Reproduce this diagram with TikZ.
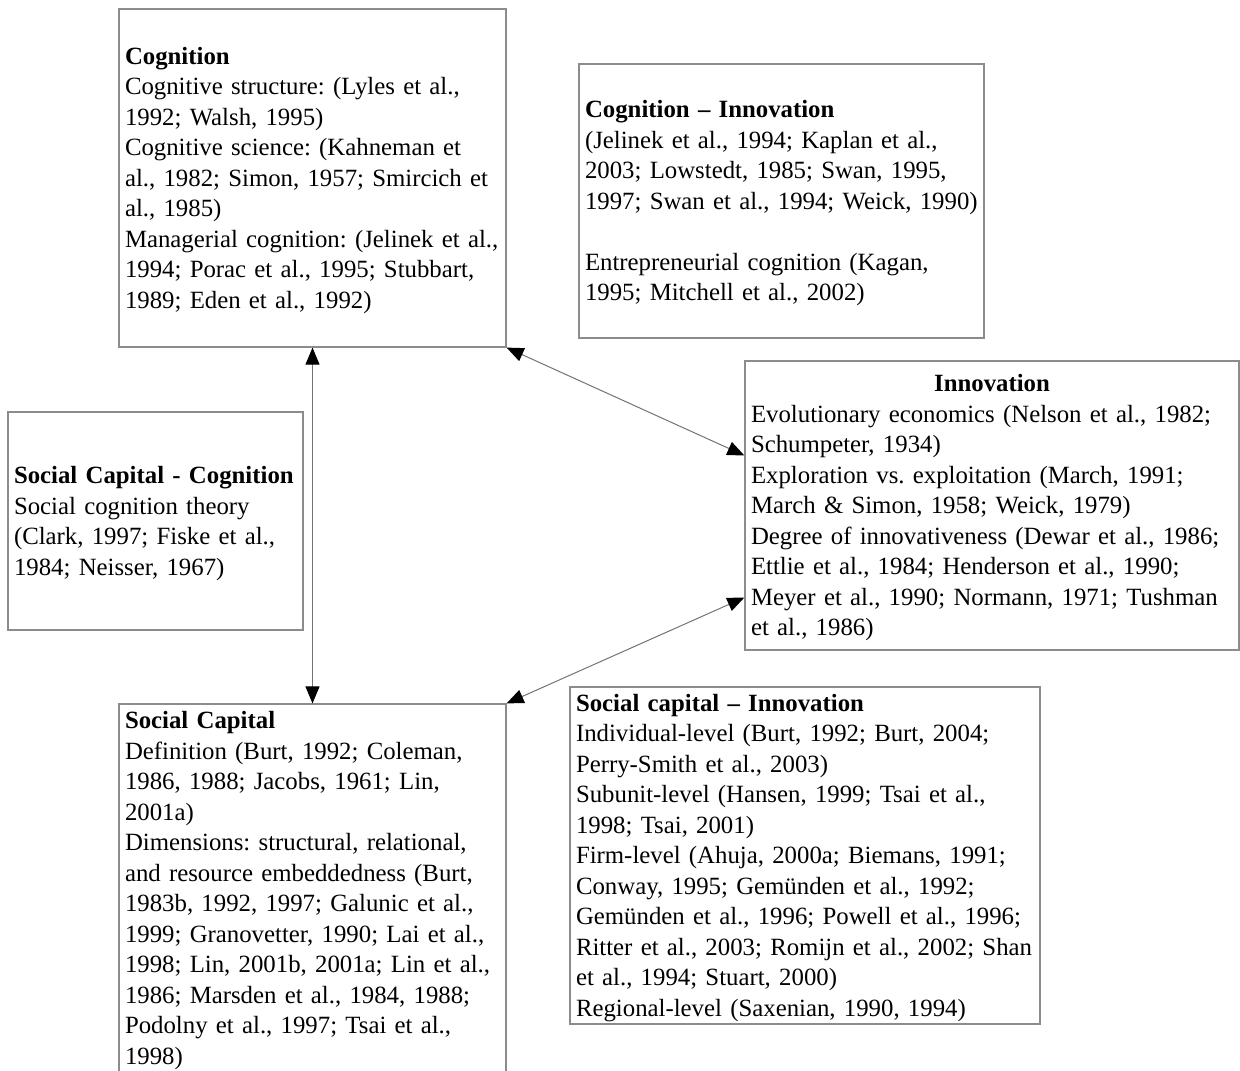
\documentclass[tikz,border=0pt]{standalone}
\usepackage{fontspec}
\setmainfont{Liberation Serif}
\usetikzlibrary{arrows.meta}

\begin{document}
\begin{tikzpicture}[
x=0.5pt, y=-0.5pt,
box/.style 2 args={draw=black!45, line width=0.6pt, inner sep=0pt,
  minimum width=#1pt, text width=#1pt, minimum height=#2pt,
  font=\fontsize{12.4}{15.25}\selectfont,
  execute at begin node={\frenchspacing\raggedright\leftskip=3pt\rightskip=-20pt plus 1fil\relax\rule{0pt}{11pt}}},
link/.style={{Triangle[length=8.5pt, width=7pt, color=black]}-{Triangle[length=8.5pt, width=7pt, color=black]}, draw=black!55, line width=0.5pt}
]
\useasboundingbox (0,0) rectangle (1240,1070);

% boxes
\node[box={193.5}{169}] (cog) at (312.5,178) {\textbf{Cognition}\\
Cognitive structure: (Lyles et al.,\\
1992; Walsh, 1995)\\
Cognitive science: (Kahneman et\\
al., 1982; Simon, 1957; Smircich et\\
al., 1985)\\
Managerial cognition: (Jelinek et al.,\\
1994; Porac et al., 1995; Stubbart,\\
1989; Eden et al., 1992)};

\node[box={202.5}{137}] (coginno) at (781.5,201) {\textbf{Cognition -- Innovation}\\
(Jelinek et al., 1994; Kaplan et al.,\\
2003; Lowstedt, 1985; Swan, 1995,\\
1997; Swan et al., 1994; Weick, 1990)\\[15.25pt]
Entrepreneurial cognition (Kagan,\\
1995; Mitchell et al., 2002)};

\node[box={247}{144.5}] (inno) at (992,505.5) {\makebox[\dimexpr\linewidth-6pt\relax]{\textbf{Innovation}}\\
Evolutionary economics (Nelson et al., 1982;\\
Schumpeter, 1934)\\
Exploration vs. exploitation (March, 1991;\\
March \& Simon, 1958; Weick, 1979)\\
Degree of innovativeness (Dewar et al., 1986;\\
Ettlie et al., 1984; Henderson et al., 1990;\\
Meyer et al., 1990; Normann, 1971; Tushman\\
et al., 1986)};

\node[box={147.5}{109}] (soccog) at (155.5,521) {\textbf{Social Capital - Cognition}\\
Social cognition theory\\
(Clark, 1997; Fiske et al.,\\
1984; Neisser, 1967)};

\node[box={193.5}{184}] (soc) at (312.5,888) {\textbf{Social Capital}\\
Definition (Burt, 1992; Coleman,\\
1986, 1988; Jacobs, 1961; Lin,\\
2001a)\\
Dimensions: structural, relational,\\
and resource embeddedness (Burt,\\
1983b, 1992, 1997; Galunic et al.,\\
1999; Granovetter, 1990; Lai et al.,\\
1998; Lin, 2001b, 2001a; Lin et al.,\\
1986; Marsden et al., 1984, 1988;\\
Podolny et al., 1997; Tsai et al.,\\
1998)};

\node[box={235}{168.5}] (socinno) at (805,855.5) {\textbf{Social capital -- Innovation}\\
Individual-level (Burt, 1992; Burt, 2004;\\
Perry-Smith et al., 2003)\\
Subunit-level (Hansen, 1999; Tsai et al.,\\
1998; Tsai, 2001)\\
Firm-level (Ahuja, 2000a; Biemans, 1991;\\
Conway, 1995; Gemünden et al., 1992;\\
Gemünden et al., 1996; Powell et al., 1996;\\
Ritter et al., 2003; Romijn et al., 2002; Shan\\
et al., 1994; Stuart, 2000)\\
Regional-level (Saxenian, 1990, 1994)};

% connectors
\draw[link] (cog.south) -- (soc.north);
\draw[link] (cog.south east) -- ([yshift=25pt]inno.west);
\draw[link] ([yshift=-46pt]inno.west) -- (soc.north east);
\end{tikzpicture}
\end{document}
